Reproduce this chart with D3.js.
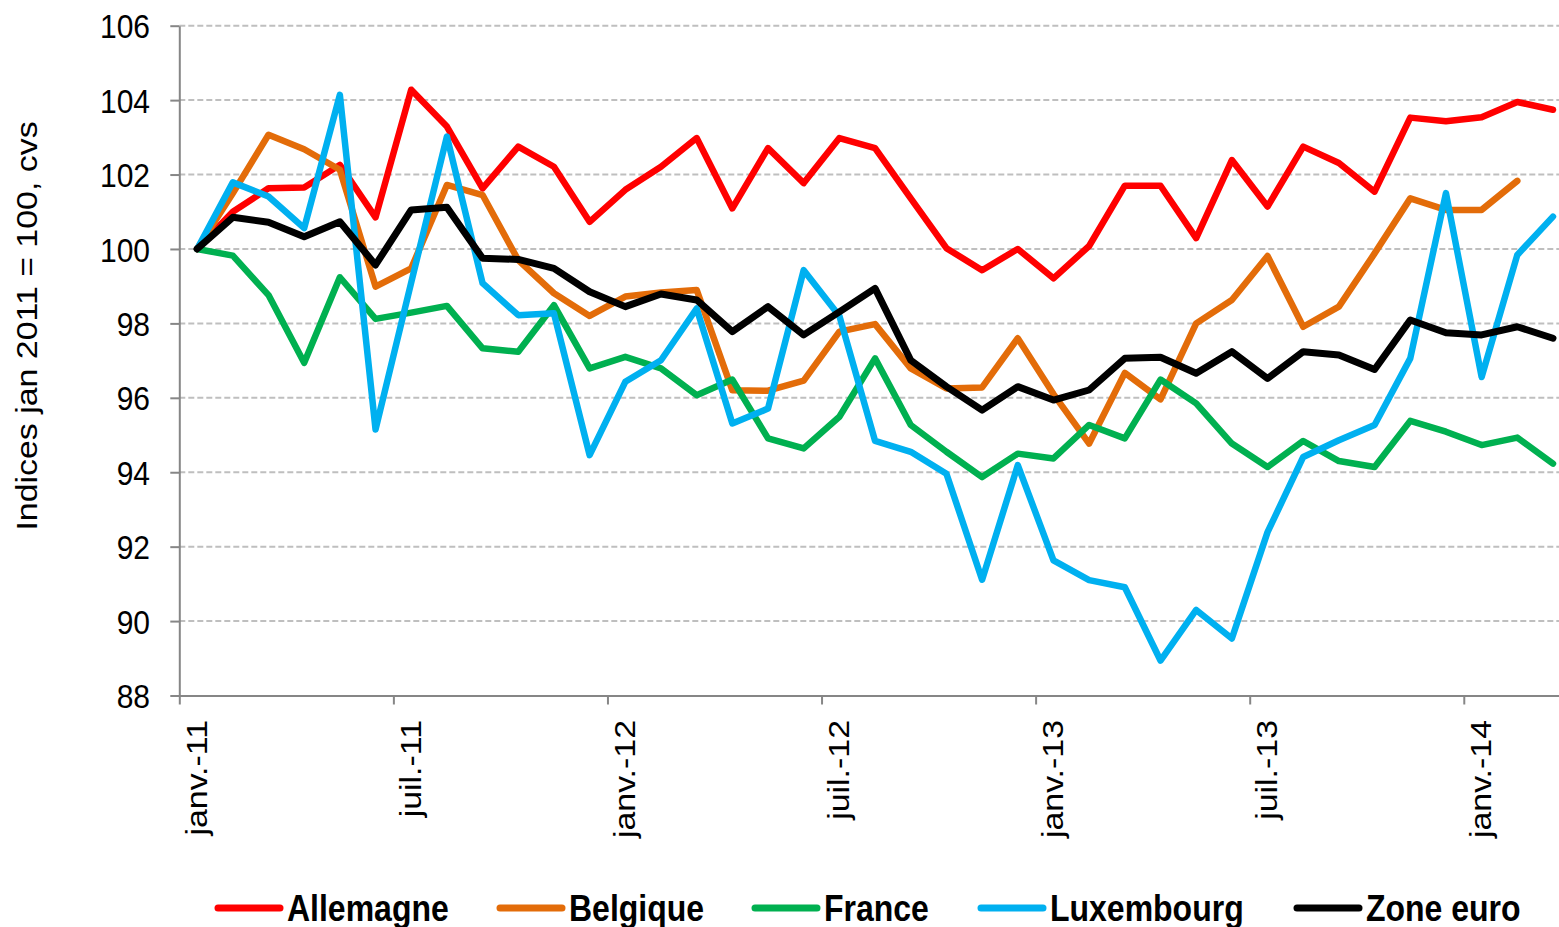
<!DOCTYPE html>
<html>
<head>
<meta charset="utf-8">
<script src="https://cdn.jsdelivr.net/npm/d3@7"></script>
<style>
  html, body { margin: 0; padding: 0; background: #fff; }
  svg { display: block; font-family: "Liberation Sans", Arial, sans-serif; }
</style>
</head>
<body>
<svg id="chart" width="1559" height="927"></svg>
<script>
// ---------- DATA ----------
const months = [
  "2011-01","2011-02","2011-03","2011-04","2011-05","2011-06","2011-07","2011-08","2011-09","2011-10","2011-11","2011-12",
  "2012-01","2012-02","2012-03","2012-04","2012-05","2012-06","2012-07","2012-08","2012-09","2012-10","2012-11","2012-12",
  "2013-01","2013-02","2013-03","2013-04","2013-05","2013-06","2013-07","2013-08","2013-09","2013-10","2013-11","2013-12",
  "2014-01","2014-02","2014-03"
];
const tickLabels = ["janv.-11","juil.-11","janv.-12","juil.-12","janv.-13","juil.-13","janv.-14"];
const yTicks = [88, 90, 92, 94, 96, 98, 100, 102, 104, 106];

const allemagne = [100, 101.0, 101.63, 101.65, 102.26, 100.85, 104.28, 103.29, 101.63, 102.75, 102.21, 100.73,
  101.59, 102.21, 102.98, 101.09, 102.71, 101.77, 102.98, 102.71, 101.36, 100.02, 99.43, 100.0,
  99.21, 100.08, 101.7, 101.7, 100.29, 102.39, 101.14, 102.75, 102.31, 101.54, 103.53, 103.43,
  103.54, 103.95, 103.74];
const belgique = [100, 101.5, 103.07, 102.68, 102.13, 98.99, 99.48, 101.72, 101.45, 99.7, 98.81, 98.2,
  98.72, 98.83, 98.9, 96.2, 96.19, 96.46, 97.78, 97.98, 96.79, 96.25, 96.28, 97.6,
  96.1, 94.77, 96.67, 95.96, 98.0, 98.63, 99.81, 97.91, 98.45, 99.88, 101.36, 101.05,
  101.05, 101.83];
const france = [100, 99.82, 98.76, 96.94, 99.24, 98.12, 98.29, 98.47, 97.33, 97.24, 98.49, 96.79,
  97.1, 96.79, 96.07, 96.49, 94.91, 94.64, 95.49, 97.06, 95.27, 94.55, 93.87, 94.5,
  94.37, 95.27, 94.91, 96.49, 95.85, 94.77, 94.14, 94.84, 94.3, 94.14, 95.38, 95.09,
  94.73, 94.93, 94.23];
const luxembourg = [100, 101.79, 101.41, 100.56, 104.14, 95.15, 99.1, 103.02, 99.08, 98.22, 98.27, 94.46,
  96.43, 97.01, 98.4, 95.31, 95.71, 99.43, 98.2, 94.84, 94.55, 93.96, 91.11, 94.19,
  91.63, 91.1, 90.91, 88.94, 90.3, 89.53, 92.39, 94.41, 94.86, 95.27, 97.06, 101.5,
  96.56, 99.84, 100.87];
const zoneEuro = [100, 100.85, 100.72, 100.33, 100.73, 99.57, 101.05, 101.12, 99.75, 99.72, 99.48, 98.85,
  98.45, 98.79, 98.63, 97.78, 98.45, 97.69, 98.31, 98.94, 97.01, 96.3, 95.67, 96.3,
  95.94, 96.21, 97.06, 97.09, 96.66, 97.24, 96.52, 97.24, 97.15, 96.76, 98.09, 97.75,
  97.69, 97.91, 97.6];

const seriesNames = ["Allemagne", "Belgique", "France", "Luxembourg", "Zone euro"];
const seriesColors = ["#FF0000", "#E36C09", "#00B050", "#00B0F0", "#000000"];
const seriesValues = [allemagne, belgique, france, luxembourg, zoneEuro];
const yTitle = "Indices jan 2011 = 100, cvs";

// ---------- LAYOUT ----------
const svg = d3.select("#chart");
const x0 = 179.3, monthW = 35.68;
const x1 = x0 + months.length * monthW;
const yTop = 25.7, yBot = 695.5;
const vStretch = 1.13;

const x = d3.scaleBand().domain(months).range([x0, x1]).padding(0);
const xLin = d3.scaleLinear().domain([0, months.length]).range([x0, x1]);
const y = d3.scaleLinear().domain([88, 106]).range([yBot, yTop]);

// gridlines
svg.append("g").selectAll("line")
  .data(yTicks.filter(v => v > 88))
  .join("line")
  .attr("x1", x0).attr("x2", x1)
  .attr("y1", d => y(d)).attr("y2", d => y(d))
  .attr("stroke", "#BFBFBF").attr("stroke-width", 2)
  .attr("stroke-dasharray", "6,3");

// Y axis
const gy = svg.append("g").attr("transform", `translate(${x0},0)`)
  .call(d3.axisLeft(y).tickValues(yTicks).tickSize(9).tickSizeOuter(0).tickPadding(20.3).tickFormat(d3.format("d")));
gy.select(".domain").attr("stroke", "#868686").attr("stroke-width", 2);
gy.selectAll(".tick line").attr("stroke", "#868686").attr("stroke-width", 2);
gy.selectAll(".tick text")
  .attr("fill", "#000").attr("font-size", 30)
  .attr("dy", null).attr("y", 0)
  .attr("transform", `translate(0,${0.358 * 30 * vStretch}) scale(1,${vStretch})`);

// X axis
const xTickIdx = tickLabels.map((_, k) => k * 6);
const gx = svg.append("g").attr("transform", `translate(0,${yBot})`)
  .call(d3.axisBottom(xLin).tickValues(xTickIdx).tickSize(9).tickSizeOuter(0)
    .tickFormat(i => tickLabels[i / 6]));
gx.select(".domain").attr("stroke", "#868686").attr("stroke-width", 2);
gx.selectAll(".tick line").attr("stroke", "#868686").attr("stroke-width", 2);
gx.selectAll(".tick text")
  .attr("fill", "#000").attr("font-size", 30)
  .attr("x", null).attr("y", null).attr("dy", null)
  .attr("text-anchor", "end")
  .attr("transform", `translate(27.2,24.5) rotate(-90) scale(${vStretch},1)`);

svg.selectAll(".tick text").attr("font-family", "'Liberation Sans', Arial, sans-serif");

// Y title
svg.append("text")
  .attr("transform", `translate(37,326) rotate(-90) scale(${vStretch},1)`)
  .attr("text-anchor", "middle")
  .attr("font-size", 30)
  .attr("fill", "#000")
  .text(yTitle);

// Lines
const line = d3.line()
  .x((d, i) => x(months[i]) + x.bandwidth() / 2)
  .y(d => y(d));

svg.append("g").selectAll("path")
  .data(seriesValues)
  .join("path")
  .attr("d", d => line(d))
  .attr("fill", "none")
  .attr("stroke", (d, i) => seriesColors[i])
  .attr("stroke-width", (d, i) => i === 4 ? 7 : 6.5)
  .attr("stroke-linejoin", "round")
  .attr("stroke-linecap", "round");

// Legend
const legendLineX = [218, 500, 755, 981, 1297];
const legendY = 908;
const lg = svg.append("g");
seriesNames.forEach((name, i) => {
  const lx = legendLineX[i];
  lg.append("line")
    .attr("x1", lx).attr("x2", lx + 62)
    .attr("y1", legendY).attr("y2", legendY)
    .attr("stroke", seriesColors[i]).attr("stroke-width", 7)
    .attr("stroke-linecap", "round");
  lg.append("text")
    .attr("transform", `translate(${lx + 69},921) scale(1,${vStretch})`)
    .attr("font-size", 32).attr("font-weight", "bold")
    .attr("fill", "#000")
    .text(name);
});
</script>
</body>
</html>
